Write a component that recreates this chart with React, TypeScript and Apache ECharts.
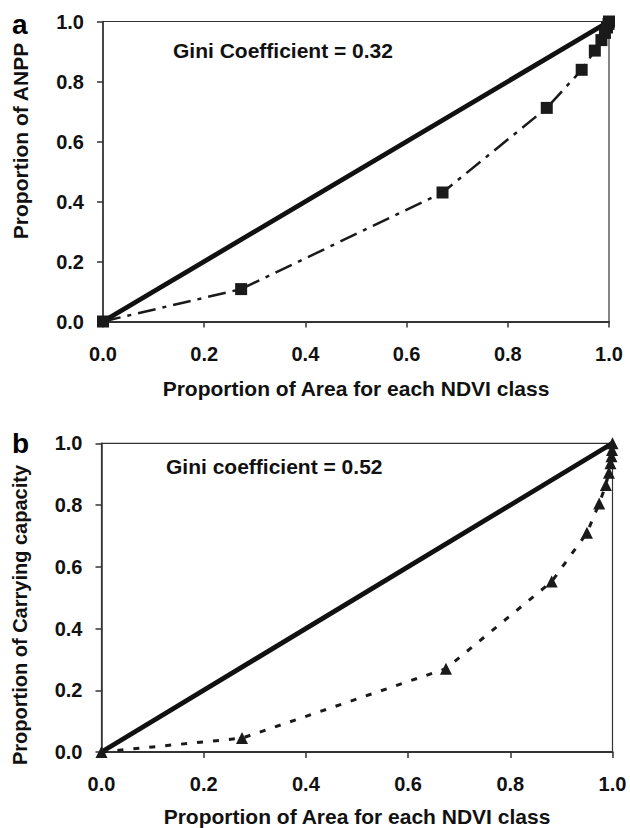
import React, { useEffect, useRef } from "react";
import * as echarts from "echarts";

// Panel a: Lorenz curve of ANPP
const areaA = [0, 0.273, 0.671, 0.877, 0.946, 0.972, 0.985, 0.992, 0.996, 0.999, 1.0];
const anpp = [0, 0.108, 0.43, 0.712, 0.839, 0.903, 0.938, 0.962, 0.98, 0.992, 1.0];

// Panel b: Lorenz curve of carrying capacity
const areaB = [0, 0.275, 0.674, 0.881, 0.95, 0.974, 0.987, 0.993, 0.996, 0.998, 0.999, 1.0];
const carrying = [0, 0.045, 0.27, 0.552, 0.71, 0.805, 0.865, 0.905, 0.935, 0.958, 0.978, 1.0];

// Line of equality
const equalityX = [0, 1];
const equalityY = [0, 1];

const xTitle = "Proportion of Area for each NDVI class";
const yTitleA = "Proportion of ANPP";
const yTitleB = "Proportion of Carrying capacity";
const giniA = "Gini Coefficient = 0.32";
const giniB = "Gini coefficient = 0.52";

const FONT = "'Liberation Sans', Arial, Helvetica, sans-serif";
const INK = "#111";
const AXIS = "#333";

const pairs = (xs: number[], ys: number[]) => xs.map((x, i) => [x, ys[i]]);

function makeXAxis(gridIndex: number, nameGap: number) {
  return {
    type: "value",
    gridIndex,
    min: 0,
    max: 1,
    interval: 0.2,
    name: xTitle,
    nameLocation: "middle",
    nameGap,
    nameTextStyle: { fontFamily: FONT, fontWeight: "bold", fontSize: 21, color: INK },
    axisLine: { show: true, lineStyle: { color: AXIS, width: 2 } },
    axisTick: { show: true, inside: false, length: 6, lineStyle: { color: AXIS, width: 1.5 } },
    axisLabel: {
      fontFamily: FONT,
      fontWeight: "bold",
      fontSize: 20,
      color: INK,
      margin: 22,
      formatter: (v: number) => v.toFixed(1),
    },
    splitLine: { show: false },
  };
}

function makeYAxis(gridIndex: number) {
  return {
    type: "value",
    gridIndex,
    min: 0,
    max: 1,
    interval: 0.2,
    axisLine: { show: true, lineStyle: { color: AXIS, width: 1.5 } },
    axisTick: { show: true, inside: false, length: 6, lineStyle: { color: AXIS, width: 1.5 } },
    axisLabel: {
      fontFamily: FONT,
      fontWeight: "bold",
      fontSize: 20,
      color: INK,
      margin: 19,
      formatter: (v: number) => v.toFixed(1),
    },
    splitLine: { show: false },
  };
}

export default function App() {
  const ref = useRef<HTMLDivElement>(null);

  useEffect(() => {
    if (!ref.current) return;
    const chart = echarts.init(ref.current, undefined, { renderer: "svg" });
    const option = {
      animation: false,
      backgroundColor: "#fff",
      grid: [
        { left: 103, top: 21.5, width: 506, height: 300, show: true, borderColor: AXIS, borderWidth: 1.2, backgroundColor: "transparent" },
        { left: 101.5, top: 443.3, width: 511, height: 310, show: true, borderColor: AXIS, borderWidth: 1.2, backgroundColor: "transparent" },
      ],
      xAxis: [makeXAxis(0, 56), makeXAxis(1, 54)],
      yAxis: [makeYAxis(0), makeYAxis(1)],
      series: [
        {
          type: "line",
          xAxisIndex: 0,
          yAxisIndex: 0,
          data: pairs(equalityX, equalityY),
          symbol: "none",
          clip: false,
          lineStyle: { color: INK, width: 4.8, type: "solid" },
          z: 3,
        },
        {
          type: "line",
          xAxisIndex: 0,
          yAxisIndex: 0,
          data: pairs(areaA, anpp),
          symbol: "rect",
          symbolSize: 12,
          clip: false,
          itemStyle: { color: "#1a1a1a" },
          lineStyle: { color: "#1a1a1a", width: 2.5, type: [18, 7, 4, 7] },
          z: 4,
        },
        {
          type: "line",
          xAxisIndex: 1,
          yAxisIndex: 1,
          data: pairs(equalityX, equalityY),
          symbol: "none",
          clip: false,
          lineStyle: { color: INK, width: 4.8, type: "solid" },
          z: 3,
        },
        {
          type: "line",
          xAxisIndex: 1,
          yAxisIndex: 1,
          data: pairs(areaB, carrying),
          symbol: "triangle",
          symbolSize: 12,
          clip: false,
          itemStyle: { color: "#1a1a1a" },
          lineStyle: { color: "#1a1a1a", width: 3, type: [6, 10] },
          z: 4,
        },
      ],
      graphic: [
        { type: "text", left: 12, top: 10, style: { text: "a", font: `bold 28px ${FONT}`, fill: "#000" } },
        { type: "text", left: 12, top: 429, style: { text: "b", font: `bold 28px ${FONT}`, fill: "#000" } },
        {
          type: "text",
          x: 173,
          y: 50,
          style: { text: giniA, font: `bold 21px ${FONT}`, fill: INK, verticalAlign: "middle", align: "left" },
        },
        {
          type: "text",
          x: 166,
          y: 466,
          style: { text: giniB, font: `bold 21px ${FONT}`, fill: INK, verticalAlign: "middle", align: "left" },
        },
        {
          type: "text",
          x: 20,
          y: 141,
          rotation: Math.PI / 2,
          style: { text: yTitleA, font: `bold 21px ${FONT}`, fill: INK, verticalAlign: "middle", align: "center" },
        },
        {
          type: "text",
          x: 20,
          y: 615,
          rotation: Math.PI / 2,
          style: { text: yTitleB, font: `bold 20px ${FONT}`, fill: INK, verticalAlign: "middle", align: "center" },
        },
      ],
    };
    chart.setOption(option as any);
    return () => chart.dispose();
  }, []);

  return (
    <div
      ref={ref}
      style={{ position: "fixed", left: 0, top: 0, width: 630, height: 828, background: "#fff" }}
    />
  );
}
